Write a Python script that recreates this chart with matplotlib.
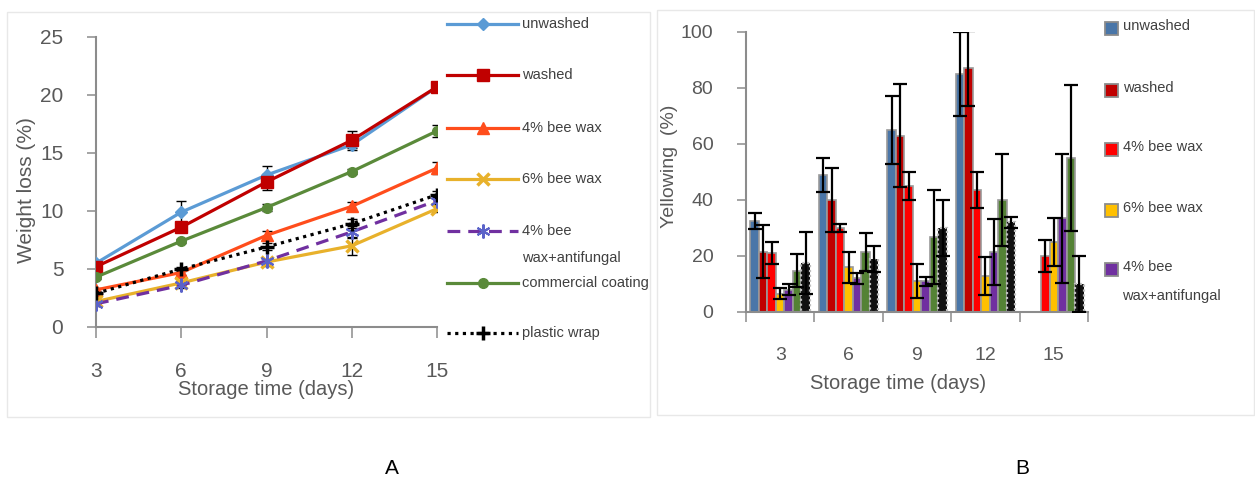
import numpy as np
import matplotlib
matplotlib.use("Agg")
import matplotlib.pyplot as plt
from matplotlib.lines import Line2D
from matplotlib.patches import Rectangle

plt.rcParams['font.family'] = ['Liberation Sans', 'DejaVu Sans']

W, H = 1255, 479

# ---------------- data ----------------
days = [3, 6, 9, 12, 15]
day_labels = ['3', '6', '9', '12', '15']
series = ['unwashed', 'washed', '4% bee wax', '6% bee wax',
          '4% bee wax+antifungal', 'commercial coating', 'plastic wrap']

# A: weight loss (%)
wl_unwashed = [5.5, 9.9, 13.1, 15.7, 20.7]
wl_washed = [5.2, 8.6, 12.5, 16.1, 20.7]
wl_bw4 = [3.2, 4.7, 7.9, 10.4, 13.7]
wl_bw6 = [2.2, 3.8, 5.6, 7.0, 10.2]
wl_bw4af = [2.0, 3.6, 5.7, 8.2, 10.9]
wl_comm = [4.3, 7.4, 10.3, 13.4, 16.9]
wl_wrap = [2.9, 5.0, 6.9, 8.9, 11.4]

wl_err_unwashed = [0.2, 1.0, 0.8, 0.3, 0.2]
wl_err_washed = [0.3, 0.3, 0.7, 0.8, 0.2]
wl_err_bw4 = [0.2, 0.2, 0.4, 0.4, 0.5]
wl_err_bw6 = [0.2, 0.2, 0.3, 0.8, 0.3]
wl_err_bw4af = [0.2, 0.2, 0.2, 0.5, 0.3]
wl_err_comm = [0.2, 0.2, 0.3, 0.2, 0.5]
wl_err_wrap = [0.2, 0.2, 0.3, 0.4, 0.3]

# B: yellowing (%)
nan = np.nan
yel_unwashed = [32.5, 49.0, 65.0, 85.0, nan]
yel_washed = [21.5, 40.0, 63.0, 87.0, nan]
yel_bw4 = [21.0, 30.0, 45.0, 43.5, 20.0]
yel_bw6 = [6.5, 16.0, 11.0, 13.0, 25.0]
yel_bw4af = [8.0, 12.0, 11.0, 21.5, 33.5]
yel_comm = [14.8, 21.5, 26.7, 40.0, 55.0]
yel_wrap = [17.5, 19.0, 30.0, 32.0, 10.0]

yel_err_unwashed = [3.0, 6.0, 12.3, 15.0, nan]
yel_err_washed = [9.5, 11.6, 18.5, 13.4, nan]
yel_err_bw4 = [4.0, 1.5, 5.0, 6.5, 5.7]
yel_err_bw6 = [2.0, 5.5, 6.0, 6.8, 8.5]
yel_err_bw4af = [2.0, 2.0, 1.6, 11.7, 23.0]
yel_err_comm = [6.0, 6.8, 16.7, 16.3, 26.0]
yel_err_wrap = [11.0, 4.6, 10.0, 2.0, 10.0]

# ---------------- styles ----------------
axis_gray = '#8C8C8C'
txt_gray = '#595959'

line_styles = [
    dict(color='#5B9BD5', marker='D', ms=6, ls='-'),
    dict(color='#C00000', marker='s', ms=9, ls='-'),
    dict(color='#FF4D1C', marker='^', ms=8, ls='-'),
    dict(color='#E8B12B', marker='x', ms=9, mew=2.5, ls='-'),
    dict(color='#7030A0', marker=(6, 2, 0), ms=10, mew=1.5, mec='#5B63C9', ls=(0, (4, 2.5))),
    dict(color='#5A8A3A', marker='o', ms=7, ls='-'),
    dict(color='black', marker='+', ms=10, mew=2.5, ls=(0, (1, 1.4))),
]
bar_colors = ['#4A76A8', '#C00000', '#FF0000', '#FFC000', '#7030A0', '#548235', '#111111']


def px(x, y):
    return x / W, 1 - y / H


fig = plt.figure(figsize=(W / 100, H / 100), dpi=100)

# light panel frames
for (x0, y0, x1, y1) in [(7, 12, 650, 417), (657, 10, 1254, 415)]:
    fig.add_artist(Rectangle(px(x0, y1), (x1 - x0) / W, (y1 - y0) / H,
                             transform=fig.transFigure, fill=False,
                             ec='#E8E8E8', lw=1))

# ================= A: weight loss =================
axA = fig.add_axes([96 / W, 1 - 327 / H, 341 / W, 290 / H])
wl_all = [wl_unwashed, wl_washed, wl_bw4, wl_bw6, wl_bw4af, wl_comm, wl_wrap]
wl_err = [wl_err_unwashed, wl_err_washed, wl_err_bw4, wl_err_bw6,
          wl_err_bw4af, wl_err_comm, wl_err_wrap]
order = [0, 1, 5, 2, 3, 4, 6]
for i in order:
    st = dict(line_styles[i])
    axA.errorbar(days, wl_all[i], yerr=wl_err[i], fmt='none', ecolor='black',
                 elinewidth=1, capsize=3.5, capthick=1, zorder=2)
    axA.plot(days, wl_all[i], lw=2.3, zorder=3, **st)

axA.set_xlim(3, 15)
axA.set_ylim(0, 25)
axA.set_xticks(days)
axA.set_xticklabels(day_labels)
axA.set_yticks([0, 5, 10, 15, 20, 25])
for s in ['top', 'right']:
    axA.spines[s].set_visible(False)
for s in ['left', 'bottom']:
    axA.spines[s].set_color(axis_gray)
    axA.spines[s].set_linewidth(1.5)
axA.tick_params(axis='x', direction='out', length=8, width=1.1, color=axis_gray,
                pad=17, labelsize=15, labelcolor=txt_gray)
axA.tick_params(axis='y', direction='out', length=6.5, width=1.1, color=axis_gray,
                pad=17, labelsize=15, labelcolor=txt_gray)
axA.set_ylabel('Weight loss (%)', fontsize=15, color=txt_gray, va='center')
axA.yaxis.set_label_coords(-0.205, 0.472)
axA.set_xlabel('Storage time (days)', fontsize=14.5, color=txt_gray, va='center')
axA.xaxis.set_label_coords(0.5, -0.215)

# legend A
leg_y = [24, 75, 128, 179, 231, 283, 333]
for i, y in enumerate(leg_y):
    st = dict(line_styles[i])
    mk = dict(marker=st.pop('marker'), ms=st.pop('ms'))
    for k in ['mew', 'mec']:
        if k in st:
            mk[k] = st.pop(k)
    x0, y0 = px(447, y)
    x1, _ = px(518, y)
    fig.add_artist(Line2D([x0, x1], [y0, y0], transform=fig.transFigure,
                          lw=2.3, color=st['color'], ls=st['ls']))
    fig.add_artist(Line2D([(x0 + x1) / 2], [y0], transform=fig.transFigure,
                          color=st['color'], ls='none', **mk))
    lab = series[i]
    if lab.startswith('4% bee wax+'):
        fig.text(*px(522, y), '4% bee', fontsize=10.5, color='#404040', va='center')
        fig.text(*px(522, y + 27), 'wax+antifungal', fontsize=10.5, color='#404040', va='center')
    else:
        fig.text(*px(522, y), lab, fontsize=10.5, color='#404040', va='center')

# ================= B: yellowing =================
axB = fig.add_axes([746 / W, 1 - 312 / H, 342 / W, 280 / H])
yel_all = [yel_unwashed, yel_washed, yel_bw4, yel_bw6, yel_bw4af, yel_comm, yel_wrap]
yel_err = [yel_err_unwashed, yel_err_washed, yel_err_bw4, yel_err_bw6,
           yel_err_bw4af, yel_err_comm, yel_err_wrap]
xc = np.arange(len(days))
step = 8.5 / 68.4
for i in range(7):
    xs = xc + (i - 3) * step
    if i == 6:
        # black bars with a dotted light edge
        axB.bar(xs, yel_all[i], width=step, color=bar_colors[i], edgecolor='#BFBFBF',
                linewidth=1.6, linestyle=(0, (1, 1.2)), zorder=2)
    else:
        axB.bar(xs, yel_all[i], width=step, color=bar_colors[i], edgecolor='#9A9A9A',
                linewidth=1.2, zorder=2)
for i in range(7):
    xs = xc + (i - 3) * step
    axB.errorbar(xs, yel_all[i], yerr=yel_err[i], fmt='none', ecolor='black',
                 elinewidth=1.6, capsize=5, capthick=1.6, zorder=3)

axB.set_xlim(-0.5, 4.5)
axB.set_ylim(0, 100)
axB.set_xticks(xc)
axB.set_xticklabels(day_labels)
axB.set_xticks(np.arange(-0.5, 5, 1), minor=True)
axB.set_yticks([0, 20, 40, 60, 80, 100])
for s in ['top', 'right']:
    axB.spines[s].set_visible(False)
for s in ['left', 'bottom']:
    axB.spines[s].set_color(axis_gray)
    axB.spines[s].set_linewidth(1.5)
axB.tick_params(axis='x', which='major', length=0, pad=25, labelsize=14, labelcolor=txt_gray)
axB.tick_params(axis='x', which='minor', direction='out', length=7, width=1.1, color=axis_gray)
axB.tick_params(axis='y', direction='out', length=6.5, width=1.1, color=axis_gray,
                pad=17, labelsize=14, labelcolor=txt_gray)
axB.set_ylabel('Yellowing  (%)', fontsize=14, color=txt_gray, va='center')
axB.yaxis.set_label_coords(-0.225, 0.521)
axB.set_xlabel('Storage time (days)', fontsize=14.5, color=txt_gray, va='center')
axB.xaxis.set_label_coords(0.444, -0.257)

# legend B (only the first five entries fit in the frame)
legB_y = [28, 90, 149, 210, 269]
for i, y in enumerate(legB_y):
    x0, y0 = px(1105, y + 7)
    fig.add_artist(Rectangle((x0, y0), 13 / W, 13 / H, transform=fig.transFigure,
                             fc=bar_colors[i], ec='#8C8C8C', lw=1.3))
    lab = series[i]
    if lab.startswith('4% bee wax+'):
        fig.text(*px(1123, y - 2), '4% bee', fontsize=10.5, color='#404040', va='center')
        fig.text(*px(1122, y + 27), 'wax+antifungal', fontsize=10.5, color='#404040', va='center')
    else:
        fig.text(*px(1123, y - 2), lab, fontsize=10.5, color='#404040', va='center')

fig.text(*px(392, 468), 'A', fontsize=15, ha='center', va='center')
fig.text(*px(1022, 468), 'B', fontsize=15, ha='center', va='center')

fig.savefig('out.png', dpi=100)
